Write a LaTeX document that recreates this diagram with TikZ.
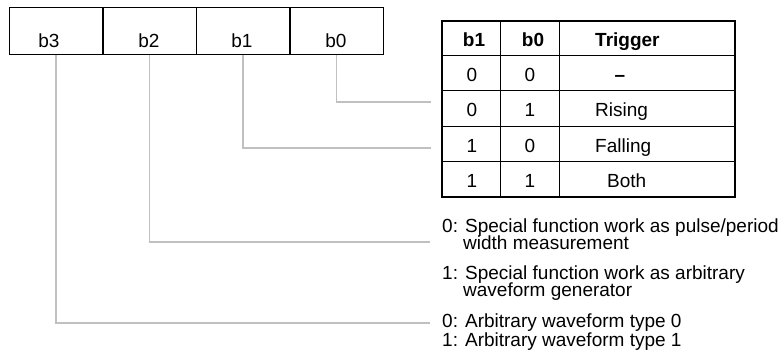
\documentclass[tikz,border=0pt]{standalone}
\usepackage{fontspec}
\setmainfont{Liberation Sans}
\definecolor{wirec}{HTML}{C0C0C0}
\begin{document}
\begin{tikzpicture}[x=1pt,y=-1pt,
  font=\fontsize{19}{22}\selectfont,
  regcell/.style={draw, line width=1.5pt, minimum width=93.5pt, minimum height=47pt, inner sep=0pt, anchor=south},
  wire/.style={draw=wirec, line width=1.3pt},
  txt/.style={anchor=base, inner sep=0pt},
  txtw/.style={anchor=base west, inner sep=0pt},
  grid/.style={line width=1pt}]
\useasboundingbox (0,0) rectangle (780,351);
% register
\node[regcell] (r3) at (56,55) {};
\node[regcell] (r2) at (149.5,55) {};
\node[regcell] (r1) at (243,55) {};
\node[regcell] (r0) at (336.5,55) {};
\node[txt] (l3) at (49,47) {b3};
\node[txt] (l2) at (149,47) {b2};
\node[txt] (l1) at (242,47) {b1};
\node[txt] (l0) at (336,47) {b0};
% table
\node[draw, line width=1.6pt, minimum width=293pt, minimum height=176pt, inner sep=0pt, anchor=north west] (tbl) at (441,20) {};
\draw[grid] (500,20) -- (500,196);
\draw[grid] (559,20) -- (559,196);
\foreach \yy in {55,90,126,161} \draw[grid] (441,\yy) -- (734,\yy);
\node[txt] (h1) at (474,46) {\textbf{b1}};
\node[txt] (h0) at (533,46) {\textbf{b0}};
\node[txtw] (ht) at (595,46) {\textbf{Trigger}};
\node[txt] (a1) at (472,81) {0};
\node[txt] (a0) at (530,81) {0};
\node[txt] (at) at (620,81) {\textbf{–}};
\node[txt] (b1) at (472,116) {0};
\node[txt] (b0) at (530,116) {1};
\node[txtw] (bt) at (595,116) {Rising};
\node[txt] (c1) at (472,152) {1};
\node[txt] (c0) at (530,152) {0};
\node[txtw] (ct) at (595,152) {Falling};
\node[txt] (d1) at (472,187) {1};
\node[txt] (d0) at (530,187) {1};
\node[txtw] (dt) at (607,187) {Both};
% descriptions
\node[txtw] (p1) at (442,232) {0: Special function work as pulse/period};
\node[txtw] (p1b) at (463,249) {width measurement};
\node[txtw] (p2) at (442,279) {1: Special function work as arbitrary};
\node[txtw] (p2b) at (463,296) {waveform generator};
\node[txtw] (p3) at (442,327) {0: Arbitrary waveform type 0};
\node[txtw] (p4) at (442,346) {1: Arbitrary waveform type 1};
% wire ends
\coordinate (e0) at (431,102);
\coordinate (e1) at (431,148);
\coordinate (e2) at (430,242);
\coordinate (e3) at (430,323);
\draw[wire] (r0.south) |- (e0);
\draw[wire] (r1.south) |- (e1);
\draw[wire] (r2.south) |- (e2);
\draw[wire] (r3.south) |- (e3);
\end{tikzpicture}
\end{document}
